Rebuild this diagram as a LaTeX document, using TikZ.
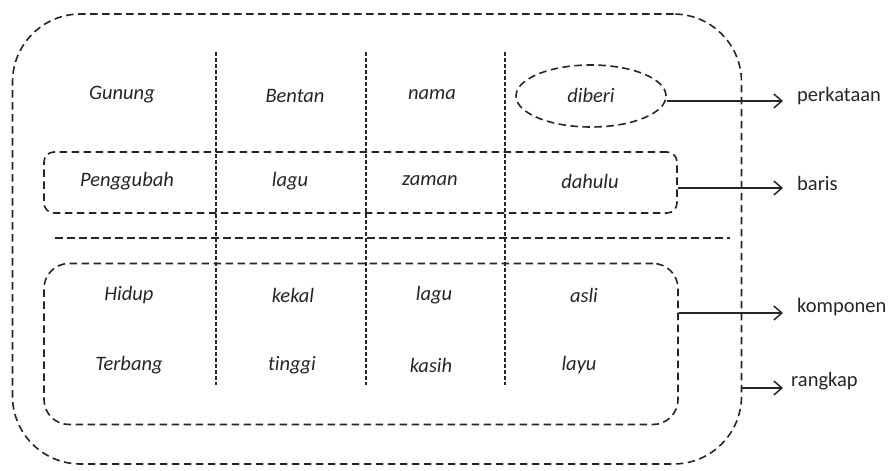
\documentclass[tikz,border=0pt]{standalone}
\usepackage{fontspec}
\setmainfont[Ligatures=NoCommon]{Carlito}
\usetikzlibrary{shapes.geometric,arrows.meta}
\begin{document}
\begin{tikzpicture}[x=1pt,y=-1pt,
  bigdash/.style={draw=black!85, line width=1.6pt, dash pattern=on 7.5pt off 4.5pt},
  griddash/.style={draw=black!85, line width=1.3pt, dash pattern=on 3.5pt off 2.5pt},
  word/.style={font=\fontsize{20.5}{24}\selectfont\itshape, text=black!85},
  lab/.style={font=\fontsize{20.5}{24}\selectfont, text=black!85, anchor=west, inner sep=0pt},
  arr/.style={draw=black!85, line width=1.5pt, -{Straight Barb[length=8pt,width=14pt,line width=1.5pt]}}]
\useasboundingbox (0,0) rectangle (892,471);
% outer box
\node[bigdash, rounded corners=68pt, minimum width=729pt, minimum height=450pt, inner sep=0pt] (outer) at (377,239) {};
% grid lines
\coordinate (g1t) at (216,52); \coordinate (g1b) at (216,385);
\coordinate (g2t) at (366,52); \coordinate (g2b) at (366,385);
\coordinate (g3t) at (505,52); \coordinate (g3b) at (505,385);
\draw[griddash] (g1t) -- (g1b);
\draw[griddash] (g2t) -- (g2b);
\draw[griddash] (g3t) -- (g3b);
% horizontal separator
\coordinate (hl) at (55,238); \coordinate (hr) at (730,238);
\draw[bigdash] (hl) -- (hr);
% baris box
\node[bigdash, rounded corners=10pt, minimum width=633pt, minimum height=61pt, inner sep=0pt] (baris) at (360.5,182.5) {};
% komponen box
\node[bigdash, rounded corners=25pt, minimum width=634pt, minimum height=161pt, inner sep=0pt] (komp) at (361,344) {};
% ellipse
\node[bigdash, ellipse, minimum width=150pt, minimum height=62pt, inner sep=0pt] (ell) at (591,96) {};
% words
\node[word] (w11) at (122,95) {Gunung};
\node[word] (w12) at (295,96) {Bentan};
\node[word] (w13) at (432,95) {nama};
\node[word] (w14) at (591,95) {diberi};
\node[word] (w21) at (127,181) {Penggubah};
\node[word] (w22) at (290,181) {lagu};
\node[word] (w23) at (430,181) {zaman};
\node[word] (w24) at (590,181) {dahulu};
\node[word] (w31) at (129,295) {Hidup};
\node[word] (w32) at (293,295) {kekal};
\node[word] (w33) at (434,295) {lagu};
\node[word] (w34) at (584,295) {asli};
\node[word] (w41) at (129,365) {Terbang};
\node[word] (w42) at (292,365) {tinggi};
\node[word] (w43) at (431,365) {kasih};
\node[word] (w44) at (579,365) {layu};
% labels
\node[lab] (l1) at (797,96) {perkataan};
\node[lab] (l2) at (797,183) {baris};
\node[lab] (l3) at (797,307) {komponen};
\node[lab] (l4) at (791,381) {rangkap};
% arrow ends
\coordinate (e1) at (783,101);
\coordinate (e2) at (783,188);
\coordinate (e3) at (783,313);
\coordinate (e4) at (783,388);
\draw[arr] (ell.east |- e1) -- (e1);
\draw[arr] (baris.east |- e2) -- (e2);
\draw[arr] (komp.east |- e3) -- (e3);
\draw[arr] (outer.east |- e4) -- (e4);
\end{tikzpicture}
\end{document}
